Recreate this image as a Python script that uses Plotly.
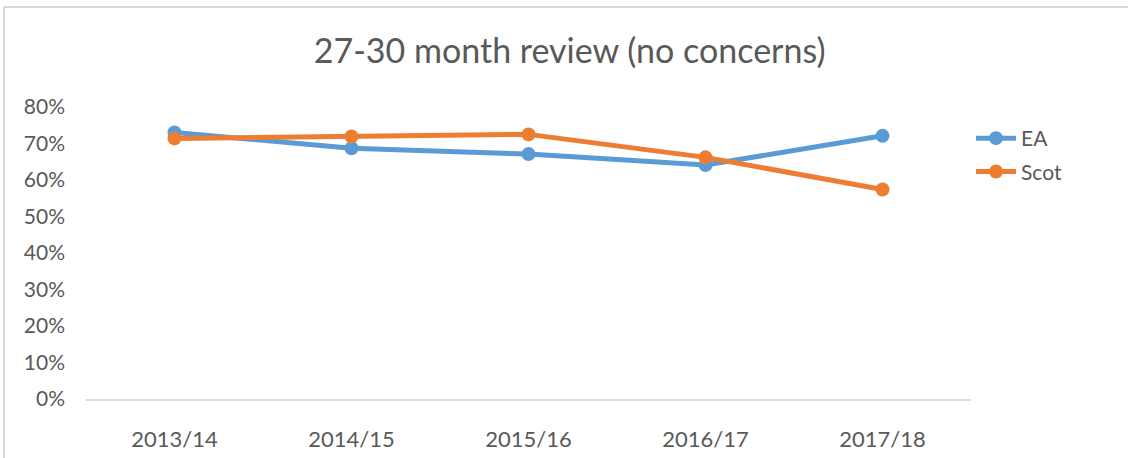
import plotly.graph_objects as go

categories = ["2013/14", "2014/15", "2015/16", "2016/17", "2017/18"]
ea_values = [0.730, 0.687, 0.671, 0.641, 0.721]
scot_values = [0.714, 0.719, 0.725, 0.662, 0.574]
y_ticks = [0, 0.1, 0.2, 0.3, 0.4, 0.5, 0.6, 0.7, 0.8]
y_tick_labels = ["0%", "10%", "20%", "30%", "40%", "50%", "60%", "70%", "80%"]

FONT = "Lato"
TXT = "#595959"
W, H = 1128, 458
ML, MR, MT, MB = 86, 157, 107, 59

fig = go.Figure()
fig.add_trace(go.Scatter(
    x=categories, y=ea_values, name="EA", mode="lines+markers",
    legendgroup="ea",
    line=dict(color="#5B9BD5", width=5),
    marker=dict(color="#5B9BD5", size=14),
))
fig.add_trace(go.Scatter(
    x=categories, y=scot_values, name="Scot", mode="lines+markers",
    legendgroup="scot",
    line=dict(color="#ED7D31", width=5),
    marker=dict(color="#ED7D31", size=14),
))

fig.update_layout(
    width=W, height=H,
    paper_bgcolor="white", plot_bgcolor="white",
    margin=dict(l=ML, r=MR, t=MT, b=MB, autoexpand=False),
    title=dict(text="27-30 month review (no concerns)", x=0.505, xref="container",
               xanchor="center",
               y=1 - 51 / H, yref="container", yanchor="middle",
               font=dict(family=FONT, size=34, color=TXT)),
    font=dict(family=FONT, size=21, color=TXT),
    showlegend=True,
    legend=dict(x=1.0, xanchor="left", y=1 - (118 - MT) / (H - MT - MB), yanchor="top",
                font=dict(family=FONT, size=21, color=TXT),
                itemwidth=40, tracegroupgap=3, bgcolor="rgba(0,0,0,0)"),
    xaxis=dict(type="category", range=[-0.5, 4.5], showgrid=False, zeroline=False,
               showline=True, linecolor="#d9d9d9", linewidth=2,
               ticks="", ticklabelstandoff=20, automargin=False,
               tickfont=dict(family=FONT, size=22, color=TXT)),
    yaxis=dict(range=[0, 0.8], tickvals=y_ticks, ticktext=y_tick_labels,
               showgrid=False, zeroline=False, showline=False, ticks="",
               ticklabelstandoff=20, automargin=False,
               tickfont=dict(family=FONT, size=21, color=TXT)),
)

plot_w = W - ML - MR
plot_h = H - MT - MB
def px_x(p):
    return (p - ML) / plot_w
def px_y(p):
    return (H - MB - p) / plot_h

fig.add_shape(type="line", xref="paper", yref="paper",
              x0=px_x(4), x1=px_x(1130), y0=px_y(7), y1=px_y(7),
              line=dict(color="#d9d9d9", width=2))
fig.add_shape(type="line", xref="paper", yref="paper",
              x0=px_x(4), x1=px_x(4), y0=px_y(7), y1=px_y(460),
              line=dict(color="#d9d9d9", width=2))

fig.write_html("out.html", config={"displayModeBar": False},
               post_script="document.body.style.margin='0';")
